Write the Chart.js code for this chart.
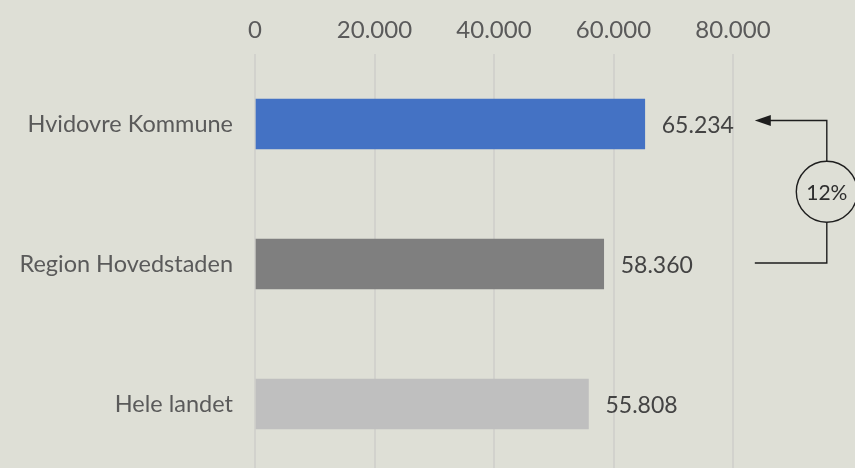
<!DOCTYPE html>
<html>
<head>
<meta charset="utf-8">
<script src="https://cdn.jsdelivr.net/npm/chart.js@4/dist/chart.umd.min.js"></script>
<style>
  html, body { margin: 0; padding: 0; background: #dedfd6; overflow: hidden; }
  #wrap { width: 855px; height: 474px; }
</style>
</head>
<body>
<div id="wrap"><canvas id="chart" width="855" height="474"></canvas></div>
<script>
const categories = ['Hvidovre Kommune', 'Region Hovedstaden', 'Hele landet'];
const values = [65234, 58360, 55808];
const barColors = ['#4472c4', '#7f7f7f', '#bfbfbf'];
const tickValues = [0, 20000, 40000, 60000, 80000];
const changeLabel = '12%';

const fmt = (v) => v.toLocaleString('da-DK');

// chart.js reserves room for half labels on the edges, we don't want that
const noPad = (scale) => {
    scale.paddingLeft = 0;
    scale.paddingRight = 0;
    scale.paddingTop = 0;
    scale.paddingBottom = 0;
};

// value labels to the right of each bar
const valueLabels = {
    id: 'valueLabels',
    afterDatasetsDraw: (chart) => {
        const { ctx } = chart;
        const meta = chart.getDatasetMeta(0);
        ctx.save();
        ctx.font = '23px Lato';
        ctx.fillStyle = '#434343';
        ctx.textAlign = 'left';
        ctx.textBaseline = 'middle';
        meta.data.forEach((bar, i) => {
            ctx.fillText(fmt(values[i]), bar.x + 17, bar.y + 2);
        });
        ctx.restore();
    },
};

// bracket arrow with the percentage bubble
const changeBracket = {
    id: 'changeBracket',
    afterDraw: (chart) => {
        const { ctx } = chart;
        const x = chart.scales.x;
        const meta = chart.getDatasetMeta(0);
        const tipX = x.getPixelForValue(83650);
        const sideX = x.getPixelForValue(95700);
        const y1 = meta.data[0].y - 3.5;
        const y2 = meta.data[1].y - 1;
        const cy = (y1 + y2) / 2;
        const r = 30.5;

        ctx.save();
        ctx.strokeStyle = '#1e1e1e';
        ctx.fillStyle = '#1e1e1e';
        ctx.lineWidth = 1.4;
        ctx.beginPath();
        ctx.moveTo(tipX + 14, y1);
        ctx.lineTo(sideX, y1);
        ctx.lineTo(sideX, cy - r);
        ctx.moveTo(sideX, cy + r);
        ctx.lineTo(sideX, y2);
        ctx.lineTo(tipX, y2);
        ctx.stroke();

        ctx.beginPath();
        ctx.moveTo(tipX, y1);
        ctx.lineTo(tipX + 16, y1 - 5.5);
        ctx.lineTo(tipX + 16, y1 + 5.5);
        ctx.closePath();
        ctx.fill();

        ctx.beginPath();
        ctx.arc(sideX, cy, r, 0, Math.PI * 2);
        ctx.stroke();

        ctx.font = '21px Lato';
        ctx.fillStyle = '#2e2e2e';
        ctx.textAlign = 'center';
        ctx.textBaseline = 'middle';
        ctx.fillText(changeLabel, sideX, cy + 1);
        ctx.restore();
    },
};

new Chart(document.getElementById('chart'), {
    type: 'bar',
    data: {
        labels: categories,
        datasets: [{
            data: values,
            backgroundColor: barColors,
            barThickness: 50,
        }],
    },
    options: {
        indexAxis: 'y',
        responsive: false,
        animation: false,
        layout: { padding: { left: 0, right: 2.5, top: 0, bottom: 0 } },
        plugins: {
            legend: { display: false },
            tooltip: { enabled: false },
        },
        scales: {
            x: {
                position: 'top',
                min: 0,
                max: 100000,
                afterBuildTicks: (scale) => {
                    scale.ticks = tickValues.concat([100000]).map(v => ({ value: v }));
                },
                afterFit: (scale) => { scale.height = 54; noPad(scale); },
                border: { display: false },
                grid: {
                    drawTicks: false,
                    lineWidth: 2,
                    color: (c) => (c.tick && c.tick.value > 80000) ? 'rgba(0,0,0,0)' : '#d2d2cd',
                },
                ticks: {
                    padding: 9,
                    color: '#5a5a5a',
                    font: { family: 'Lato', size: 24 },
                    callback: (v) => v > 80000 ? '' : fmt(v),
                },
            },
            y: {
                afterFit: (scale) => { scale.width = 255; noPad(scale); },
                border: { display: false },
                grid: { display: false, drawTicks: false },
                ticks: {
                    padding: 22,
                    color: '#5a5a5a',
                    font: { family: 'Lato', size: 23.5 },
                },
            },
        },
    },
    plugins: [valueLabels, changeBracket],
});
</script>
</body>
</html>
